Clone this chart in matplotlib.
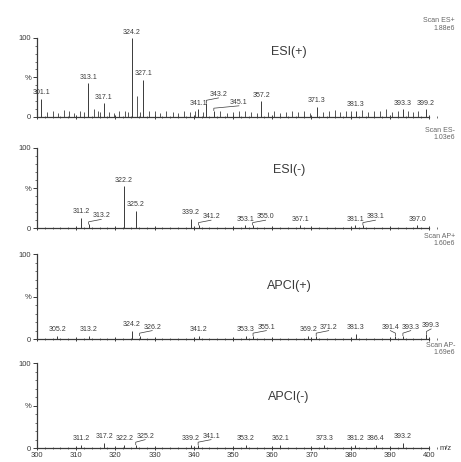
import matplotlib.pyplot as plt
from matplotlib.ticker import MultipleLocator, FixedLocator

plt.rcParams['font.family'] = ['Liberation Sans', 'DejaVu Sans']

INK = '#3a3a3a'

# labelled peaks (m/z, relative intensity %) for each ionisation mode
esi_pos_mz = [301.1, 313.1, 317.1, 324.2, 327.1, 341.1, 343.2, 345.1, 357.2,
              371.3, 381.3, 393.3, 399.2]
esi_pos_int = [23, 43, 17, 100, 47, 10, 18, 8, 20, 13, 8, 10, 10]

esi_neg_mz = [311.2, 313.2, 322.2, 325.2, 339.2, 341.2, 353.1, 355.0, 367.1,
              381.1, 383.1, 397.0]
esi_neg_int = [13, 5, 52, 22, 12, 4, 4, 4, 4, 4, 4, 4]

apci_pos_mz = [305.2, 313.2, 324.2, 326.2, 341.2, 353.3, 355.1, 369.2, 371.2,
               381.3, 391.4, 393.3, 399.3]
apci_pos_int = [4, 4, 10, 4, 4, 4, 4, 4, 4, 6, 4, 4, 6]

apci_neg_mz = [311.2, 317.2, 322.2, 325.2, 339.2, 341.1, 353.2, 362.1, 373.3,
               381.2, 386.4, 393.2]
apci_neg_int = [4, 6, 4, 4, 4, 4, 4, 4, 4, 4, 4, 6]

# unlabelled minor peaks in the ESI(+) trace
esi_pos_noise_mz = [302.5, 304.0, 305.5, 307.0, 308.2, 309.5, 311.0, 312.0,
                    314.5, 315.6, 316.2, 318.5, 319.6, 321.0, 322.4, 323.3,
                    325.5, 326.3, 328.5, 330.0, 331.4, 333.0, 334.6, 336.0,
                    337.5, 339.0, 340.2, 342.3, 346.8, 348.4, 350.0, 351.5,
                    353.0, 354.6, 356.0, 359.0, 360.5, 362.0, 363.5, 365.0,
                    366.6, 368.0, 369.5, 373.0, 374.5, 376.0, 377.3, 378.7,
                    380.0, 383.0, 384.5, 386.0, 387.5, 389.0, 390.5, 392.0,
                    394.5, 395.8, 397.2]
esi_pos_noise_int = [6, 8, 5, 9, 7, 5, 8, 6, 10, 7, 6, 6, 5, 7, 8, 6,
                     27, 6, 7, 8, 5, 7, 6, 5, 7, 6, 8, 6, 7, 5, 6, 8,
                     7, 6, 5, 6, 7, 5, 6, 8, 6, 7, 5, 6, 7, 9, 6, 8,
                     7, 9, 6, 8, 7, 10, 6, 7, 8, 6, 7]

panels = [
    ('ESI(+)', 'Scan ES+\n1.88e6', esi_pos_mz, esi_pos_int,
     esi_pos_noise_mz, esi_pos_noise_int),
    ('ESI(-)', 'Scan ES-\n1.03e6', esi_neg_mz, esi_neg_int, [], []),
    ('APCI(+)', 'Scan AP+\n1.60e6', apci_pos_mz, apci_pos_int, [], []),
    ('APCI(-)', 'Scan AP-\n1.69e6', apci_neg_mz, apci_neg_int, [], []),
]

# axes boxes: left, bottom, width, height (figure fraction)
boxes = [
    (0.080, 0.747, 0.868, 0.171),
    (0.080, 0.506, 0.868, 0.174),
    (0.080, 0.266, 0.868, 0.184),
    (0.080, 0.030, 0.868, 0.184),
]
title_y = [0.82, 0.72, 0.63, 0.60]


def spread(xs, heights, gap=5.2, hi=400.5):
    """Shift label x positions so neighbouring labels on a similar level
    don't collide."""
    order = sorted(range(len(xs)), key=lambda k: xs[k])
    pos = list(xs)
    prev = None
    for k in order:
        if prev is not None and abs(heights[k] - heights[prev]) < 15:
            pos[k] = max(pos[k], pos[prev] + gap)
        prev = k
    # pull back anything pushed beyond the axis end
    for j in range(len(order) - 1, -1, -1):
        k = order[j]
        limit = hi if j == len(order) - 1 else pos[order[j + 1]] - gap
        nxt = order[j + 1] if j < len(order) - 1 else None
        if nxt is None or abs(heights[k] - heights[nxt]) < 15:
            pos[k] = min(pos[k], limit)
    return pos


fig = plt.figure(figsize=(4.61, 4.62), dpi=100)

for i, (title, scan, mz, inten, nmz, nint) in enumerate(panels):
    ax = fig.add_axes(boxes[i])
    ax.set_xlim(300, 402)
    ax.set_ylim(0, 100)
    ax.vlines(nmz, 0, nint, color=INK, lw=0.6)
    ax.vlines(mz, 0, inten, color=INK, lw=0.7)

    lx = spread(mz, inten)
    for m, h, x in zip(mz, inten, lx):
        ty = h + 6 if abs(x - m) > 0.8 else h + 3
        if abs(x - m) > 0.8:
            ax.plot([m, m, x], [h, h + 3, ty], color=INK, lw=0.5)
        ax.text(x, ty, f'{m:.1f}', ha='center', va='bottom',
                fontsize=5, color=INK)

    for s in ('top', 'right'):
        ax.spines[s].set_visible(False)
    ax.spines['left'].set_color(INK)
    ax.spines['bottom'].set_color(INK)
    ax.spines['left'].set_linewidth(0.9)
    ax.spines['bottom'].set_linewidth(0.9)
    ax.spines['bottom'].set_bounds(300, 400)

    ax.yaxis.set_major_locator(FixedLocator([0, 50, 100]))
    ax.set_yticklabels(['0', '%', '100'])
    ax.yaxis.set_minor_locator(MultipleLocator(10))
    ax.xaxis.set_major_locator(MultipleLocator(10))
    ax.xaxis.set_minor_locator(MultipleLocator(2))
    ax.tick_params(axis='both', which='major', length=3, width=0.7,
                   color=INK, labelcolor=INK, labelsize=5.5, pad=1)
    ax.tick_params(axis='both', which='minor', length=1.8, width=0.5,
                   color=INK)
    ax.tick_params(axis='x', which='both', direction='inout')
    if i < 3:
        ax.tick_params(axis='x', labelbottom=False)
    else:
        ax.text(1.005, 0.0, 'm/z', transform=ax.transAxes, fontsize=5.5,
                color=INK, ha='left', va='center')

    ax.text(0.63, title_y[i], title, transform=ax.transAxes, fontsize=9,
            color=INK, ha='center', va='center')
    ax.text(1.045, 1.08, scan, transform=ax.transAxes, fontsize=5,
            color='#666666', ha='right', va='bottom', linespacing=1.1)

fig.savefig('out.png', dpi=100, facecolor='white')
